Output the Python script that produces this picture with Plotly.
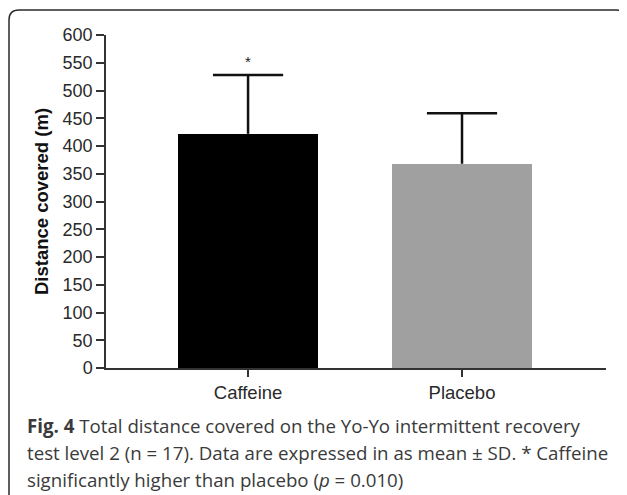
import plotly.graph_objects as go

categories = ["Caffeine", "Placebo"]
means = [422, 368]
sds = [106, 91]
bar_colors = ["#000000", "#a0a0a0"]
y_ticks = [0, 50, 100, 150, 200, 250, 300, 350, 400, 450, 500, 550, 600]
sig_marker = "*"
caption_lines = [
    "<b>Fig. 4</b> Total distance covered on the Yo-Yo intermittent recovery",
    "test level 2 (n = 17). Data are expressed in as mean ± SD. * Caffeine",
    "significantly higher than placebo (<i>p</i> = 0.010)",
]

W, H = 627, 495
OFF = 8  # page body offset
X0, X1, Y0, Y1 = 106, 606, 35, 368
L, T = X0 - OFF, Y0 - OFF
R, B = W - (X1 - OFF), H - (Y1 - OFF)
pw, ph = X1 - X0, Y1 - Y0

def px_x(p):
    return (p - X0) / pw

def px_y(p):
    return (Y1 - p) / ph

xpos = list(range(len(categories)))
bar_w = 0.654
cap_half = 0.164

fig = go.Figure()
fig.add_trace(go.Bar(
    x=xpos, y=means, width=bar_w,
    marker=dict(color=bar_colors, line=dict(width=0)),
    showlegend=False, hoverinfo="skip",
))

# upper-only error bars (stem + cap)
ex, ey = [], []
for xi, m, s in zip(xpos, means, sds):
    ex += [xi, xi, None, xi - cap_half, xi + cap_half, None]
    ey += [m, m + s, None, m + s, m + s, None]
fig.add_trace(go.Scatter(x=ex, y=ey, mode="lines",
                         line=dict(color="#111111", width=2.5),
                         showlegend=False, hoverinfo="skip"))

fig.add_annotation(x=0, y=means[0] + sds[0], yshift=13, text=sig_marker,
                   showarrow=False, font=dict(family="Liberation Sans", size=15, color="#222"),
                   xref="x", yref="y")

# border
lft, rgt, top, bot = px_x(9), px_x(626), px_y(10), px_y(520)
rx, ry = 10 / pw, 10 / ph
path = (f"M {lft},{bot} L {lft},{top - ry} Q {lft},{top} {lft + rx},{top} "
        f"L {rgt - rx},{top} Q {rgt},{top} {rgt},{top - ry} L {rgt},{bot}")
fig.add_shape(type="path", path=path, xref="paper", yref="paper",
              line=dict(color="#2a2a2a", width=1.5))

cap_y = [425, 452, 479]
for line, yy in zip(caption_lines, cap_y):
    fig.add_annotation(x=px_x(25), y=px_y(yy), xref="paper", yref="paper",
                       xanchor="left", yanchor="middle", showarrow=False,
                       text=line, align="left",
                       font=dict(family="Open Sans", size=18.7, color="#3a3a3a"))

fig.update_layout(
    width=W, height=H,
    margin=dict(l=L, r=R, t=T, b=B, autoexpand=False),
    paper_bgcolor="white", plot_bgcolor="white",
    bargap=0,
)
fig.update_xaxes(
    range=[-0.664, 1.673], tickvals=xpos, ticktext=categories,
    showline=True, linecolor="#333", linewidth=1.5,
    ticks="outside", ticklen=7, tickwidth=1.5, tickcolor="#333",
    tickfont=dict(family="Liberation Sans", size=18.5, color="#2a2a2a"),
    showgrid=False, zeroline=False, automargin=False,
)
fig.update_yaxes(
    range=[0, 600], tickvals=y_ticks,
    showline=True, linecolor="#333", linewidth=1.5,
    ticks="outside", ticklen=8, tickwidth=1.5, tickcolor="#333",
    tickfont=dict(family="Liberation Sans", size=18, color="#2a2a2a"),
    showgrid=False, zeroline=False, automargin=False,
    title=dict(text="<b>Distance covered (m)</b>", standoff=9,
               font=dict(family="Liberation Sans", size=18.5, color="#111")),
)

fig.write_html("out.html")
